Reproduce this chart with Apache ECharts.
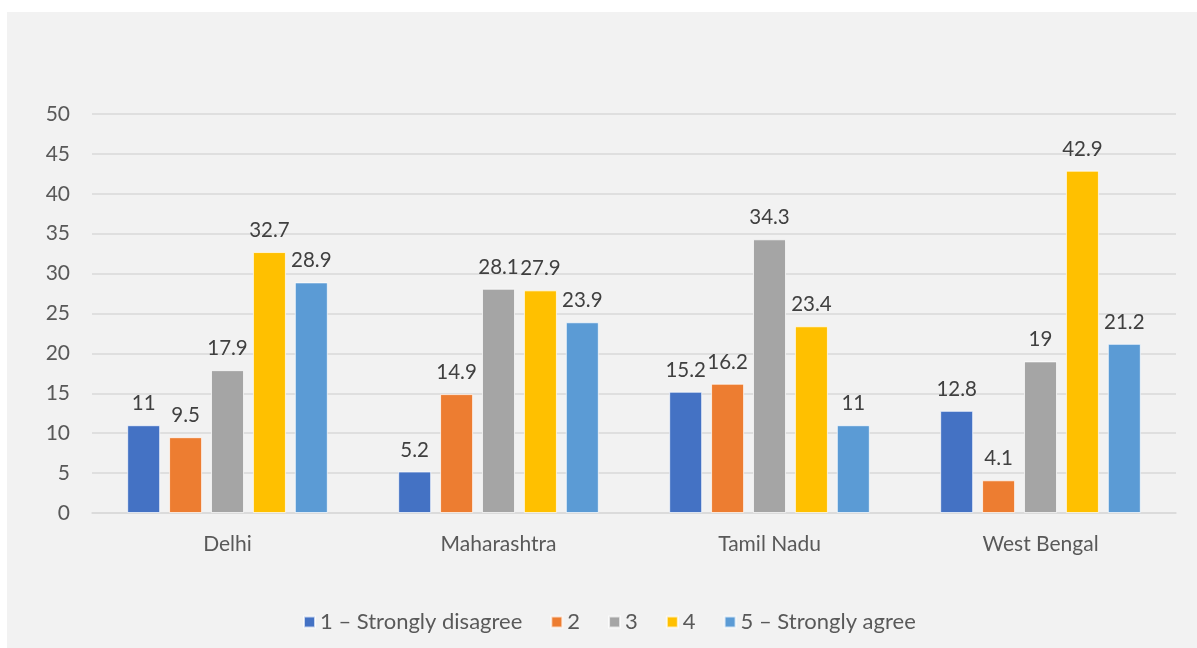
<!DOCTYPE html>
<html>
<head>
<meta charset="utf-8">
<script src="https://cdn.jsdelivr.net/npm/echarts@6/dist/echarts.min.js"></script>
<style>
  html, body { margin: 0; padding: 0; background: #ffffff; }
  #panel { position: absolute; left: 7px; top: 12px; width: 1190px; height: 636px; background: #f2f2f2; }
  #chart { width: 100%; height: 100%; }
</style>
</head>
<body>
<div id="panel"><div id="chart"></div></div>
<script>
// Survey responses by state, percentage of respondents per rating
const states = ['Delhi', 'Maharashtra', 'Tamil Nadu', 'West Bengal'];
const ratingNames = ['1 – Strongly disagree', '2', '3', '4', '5 – Strongly agree'];
const rating1 = [11, 5.2, 15.2, 12.8];
const rating2 = [9.5, 14.9, 16.2, 4.1];
const rating3 = [17.9, 28.1, 34.3, 19];
const rating4 = [32.7, 27.9, 23.4, 42.9];
const rating5 = [28.9, 23.9, 11, 21.2];
const yTicks = { min: 0, max: 50, interval: 5 };

const seriesValues = [rating1, rating2, rating3, rating4, rating5];
const colors = ['#4472c4', '#ed7d31', '#a5a5a5', '#ffc000', '#5b9bd5'];
const fontFamily = 'Lato, "Open Sans", sans-serif';

const chart = echarts.init(document.getElementById('chart'), null, { renderer: 'canvas' });
chart.setOption({
  animation: false,
  color: colors,
  textStyle: { fontFamily: fontFamily },
  grid: { left: 85, right: 21, top: 102, bottom: 135 },
  legend: {
    bottom: 10,
    left: 291,
    itemWidth: 11,
    itemHeight: 11,
    itemGap: 28,
    icon: 'rect',
    textStyle: { color: '#595959', fontSize: 22, fontFamily: fontFamily }
  },
  xAxis: {
    type: 'category',
    data: states,
    axisLine: { lineStyle: { color: '#d9d9d9', width: 1.5 } },
    axisTick: { show: false },
    axisLabel: { color: '#595959', fontSize: 21, margin: 21 }
  },
  yAxis: {
    type: 'value',
    min: yTicks.min,
    max: yTicks.max,
    interval: yTicks.interval,
    axisLine: { show: false },
    axisTick: { show: false },
    splitLine: { lineStyle: { color: '#d9d9d9', width: 1.5 } },
    axisLabel: { color: '#595959', fontSize: 21, margin: 22 }
  },
  series: seriesValues.map((vals, i) => ({
    name: ratingNames[i],
    type: 'bar',
    data: vals,
    barWidth: 33,
    barGap: '27%',
    itemStyle: { borderColor: 'rgba(255,255,255,0.7)', borderWidth: 1 },
    label: {
      show: true,
      position: 'top',
      distance: 11,
      color: '#404040',
      fontSize: 20.5,
      fontFamily: fontFamily
    }
  }))
});
</script>
</body>
</html>
